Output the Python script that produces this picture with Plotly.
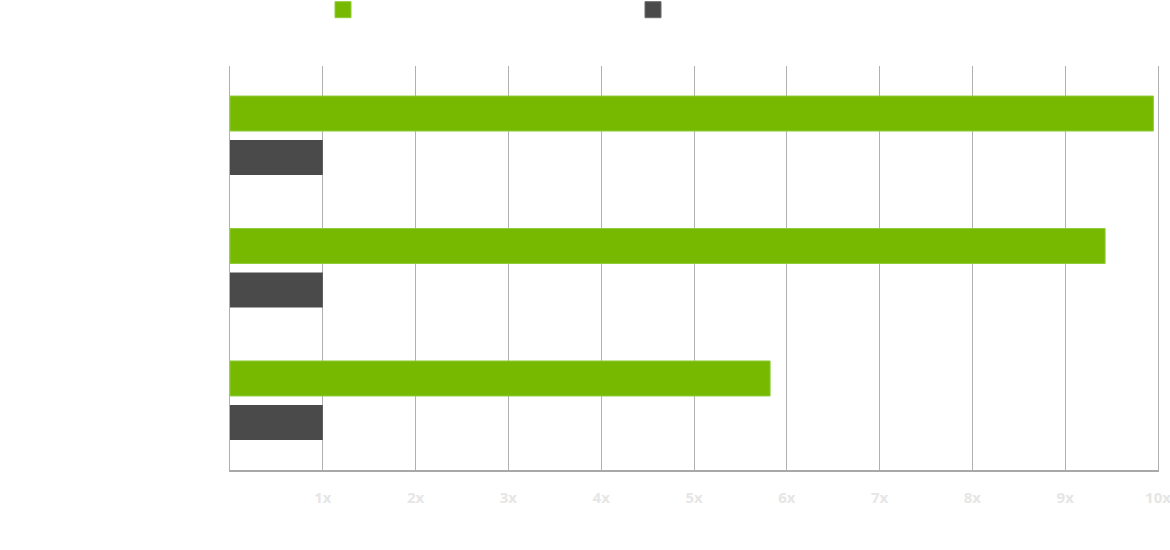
import plotly.graph_objects as go

categories = ["Workload A", "Workload B", "Workload C"]
series_names = ["Accelerated", "Baseline"]
accel_values = [9.95, 9.43, 5.82]
base_values = [1.0, 1.0, 1.0]
tick_vals = [1, 2, 3, 4, 5, 6, 7, 8, 9, 10]
tick_text = ["1x", "2x", "3x", "4x", "5x", "6x", "7x", "8x", "9x", "10x"]

GREEN = "#76b900"
GRAY = "#4a4a4a"

fig = go.Figure()
fig.add_trace(go.Bar(y=categories, x=accel_values, orientation="h", name=series_names[0],
                     marker=dict(color=GREEN, line=dict(color="#8fcc3a", width=1)),
                     showlegend=False))
fig.add_trace(go.Bar(y=categories, x=base_values, orientation="h", name=series_names[1],
                     marker=dict(color=GRAY, line=dict(color=GRAY, width=0)),
                     showlegend=False))
# legend entries
fig.add_trace(go.Scatter(x=[None], y=[None], mode="markers", name=series_names[0],
                         marker=dict(symbol="square", size=16, color=GREEN,
                                     line=dict(color="#8fcc3a", width=1))))
fig.add_trace(go.Scatter(x=[None], y=[None], mode="markers", name=series_names[1],
                         marker=dict(symbol="square", size=16, color=GRAY,
                                     line=dict(color="#6a6a6a", width=1))))

fig.update_layout(
    width=1170, height=550,
    margin=dict(l=230, r=12, t=66, b=80, autoexpand=False),
    paper_bgcolor="white", plot_bgcolor="white",
    barmode="group", bargap=0.336, bargroupgap=0.2045,
    font=dict(family="Open Sans", color="white", size=14),
    legend=dict(orientation="h", xref="container", yref="paper",
                x=(335 - 12) / 1170, y=1.178, xanchor="left", yanchor="top",
                entrywidth=265, font=dict(color="white", size=14),
                bgcolor="rgba(0,0,0,0)"),
    xaxis=dict(range=[0, 10], tickvals=tick_vals, ticktext=tick_text,
               showgrid=True, gridcolor="#b0b0b0", gridwidth=1,
               showline=True, linecolor="#a8a8a8", linewidth=1.5,
               zeroline=False, ticks="outside", ticklen=13, tickcolor="white",
               ticklabeloverflow="allow",
               tickfont=dict(family="Open Sans", color="#e6e6e6", size=15, weight="bold"),
               fixedrange=True),
    yaxis=dict(type="category", range=[2.525, -0.525],
               showgrid=False, showline=True, mirror=True,
               linecolor="#b0b0b0", linewidth=1.2,
               zeroline=False, ticks="", tickfont=dict(color="white", size=14),
               fixedrange=True),
)

fig.write_html("out.html", config={"displayModeBar": False},
               post_script="document.body.style.margin='0';")
